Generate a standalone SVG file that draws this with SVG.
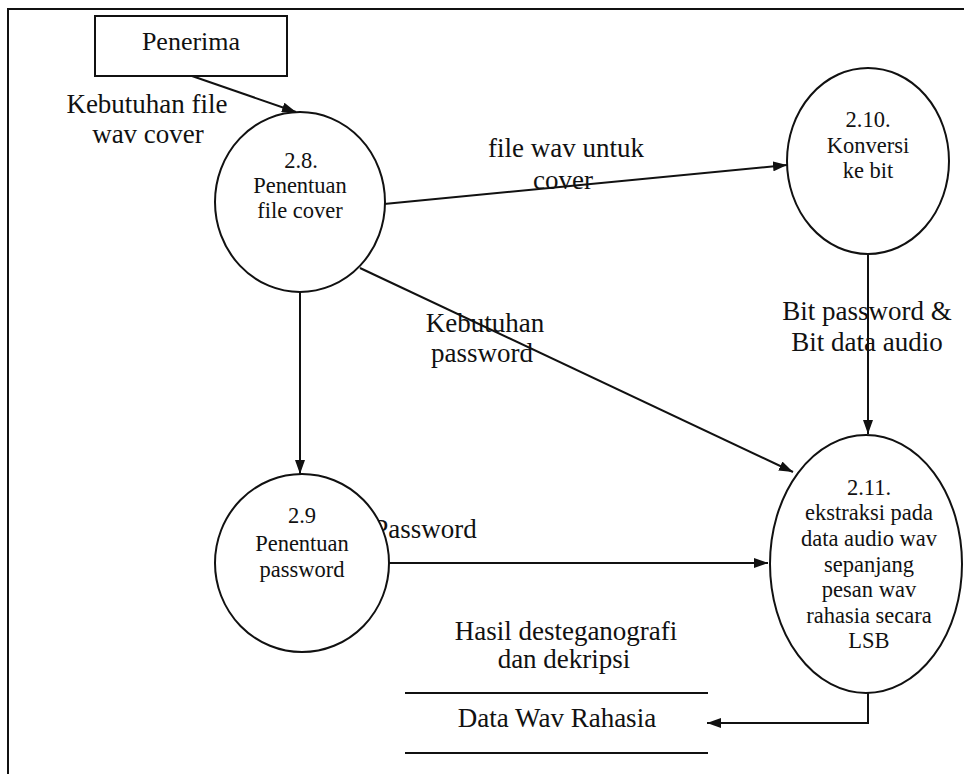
<svg xmlns="http://www.w3.org/2000/svg" width="964" height="774" viewBox="0 0 964 774">
<style>
.s{fill:none;stroke:#111;stroke-width:2}
.n{fill:#fff;stroke:#111;stroke-width:2}
text{font-family:'Liberation Serif','DejaVu Serif',serif;fill:#111;text-anchor:middle}
.lb{font-size:27px}
.nd{font-size:22.5px}
</style>
<defs>
<marker id="ar" viewBox="0 0 14 10" refX="14" refY="5" markerWidth="14" markerHeight="10" markerUnits="userSpaceOnUse" orient="auto">
<path d="M0,0 L14,5 L0,10 Z" fill="#111"/>
</marker>
</defs>
<rect width="964" height="774" fill="#fff"/>
<path class="s" d="M8,774 L8,9 L964,9"/>
<g id="connectors">
<line class="s" x1="192" y1="76" x2="296" y2="112" marker-end="url(#ar)"/>
<line class="s" x1="384" y1="204" x2="787" y2="165" marker-end="url(#ar)"/>
<line class="s" x1="300" y1="293" x2="300" y2="474" marker-end="url(#ar)"/>
<line class="s" x1="360" y1="268" x2="793" y2="472" marker-end="url(#ar)"/>
<line class="s" x1="868" y1="254" x2="868" y2="434" marker-end="url(#ar)"/>
<line class="s" x1="389" y1="563" x2="768" y2="563" marker-end="url(#ar)"/>
<path class="s" d="M868,693 L868,723 L707,723" marker-end="url(#ar)"/>
<text class="lb" x="147" y="113">Kebutuhan file</text>
<text class="lb" x="148" y="143">wav cover</text>
<text class="lb" x="566" y="157">file wav untuk</text>
<text class="lb" x="563" y="189">cover</text>
<text class="lb" x="485" y="332">Kebutuhan</text>
<text class="lb" x="482" y="362">password</text>
<text class="lb" x="867" y="320">Bit password &amp;</text>
<text class="lb" x="867" y="351">Bit data audio</text>
<text class="lb" x="425" y="538">Password</text>
<text class="lb" x="566" y="640">Hasil desteganografi</text>
<text class="lb" x="564" y="668">dan dekripsi</text>
</g>
<g id="penerima">
<rect class="n" x="95" y="16" width="192" height="60"/>
<text class="lb" x="191" y="50" style="font-size:26px">Penerima</text>
</g>
<g id="p2_8">
<ellipse class="n" cx="300" cy="202" rx="85" ry="90"/>
<text class="nd" x="301" y="168">2.8.</text>
<text class="nd" x="300" y="193">Penentuan</text>
<text class="nd" x="300" y="218">file cover</text>
</g>
<g id="p2_10">
<ellipse class="n" cx="868" cy="161" rx="81" ry="93"/>
<text class="nd" x="868" y="127">2.10.</text>
<text class="nd" x="868" y="153">Konversi</text>
<text class="nd" x="868" y="178">ke bit</text>
</g>
<g id="p2_9">
<ellipse class="n" cx="302" cy="563" rx="87" ry="89"/>
<text class="nd" x="302" y="523">2.9</text>
<text class="nd" x="302" y="551">Penentuan</text>
<text class="nd" x="302" y="577">password</text>
</g>
<g id="p2_11">
<ellipse class="n" cx="866" cy="564" rx="96" ry="129"/>
<text class="nd" x="869" y="495">2.11.</text>
<text class="nd" x="869" y="520">ekstraksi pada</text>
<text class="nd" x="869" y="546">data audio wav</text>
<text class="nd" x="869" y="572">sepanjang</text>
<text class="nd" x="869" y="597">pesan wav</text>
<text class="nd" x="869" y="623">rahasia secara</text>
<text class="nd" x="869" y="648">LSB</text>
</g>
<g id="datastore">
<line class="s" x1="405" y1="693" x2="708" y2="693"/>
<line class="s" x1="405" y1="753" x2="708" y2="753"/>
<text class="lb" x="557" y="727">Data Wav Rahasia</text>
</g>
</svg>
